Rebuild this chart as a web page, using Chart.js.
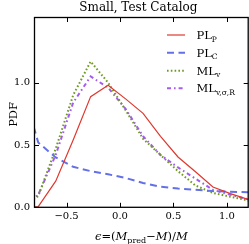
<!DOCTYPE html>
<html><head><meta charset="utf-8">
<script src="https://cdn.jsdelivr.net/npm/chart.js@4/dist/chart.umd.min.js"></script>
<style>html,body{margin:0;padding:0;background:#fff;}#wrap{width:249px;height:244px;}</style>
</head><body><div id="wrap"><canvas id="c" width="249" height="244"></canvas></div>
<script>
// bin centres of epsilon
const binCenters = [-0.9285,-0.765,-0.6015,-0.438,-0.2745,-0.111,0.0525,0.216,0.3795,0.543,0.7065,0.87,1.0335,1.197,1.36];
const plP   = [0.0, 0.005, 0.21, 0.54, 0.888, 0.98, 0.87, 0.754, 0.57, 0.404, 0.285, 0.163, 0.11, 0.064, 0.04];
const plC   = [1.0, 0.52, 0.40, 0.325, 0.29, 0.265, 0.235, 0.195, 0.165, 0.15, 0.14, 0.13, 0.125, 0.12, 0.115];
const mlV   = [0.0, 0.09, 0.47, 0.90, 1.17, 1.00, 0.78, 0.55, 0.42, 0.29, 0.175, 0.115, 0.085, 0.055, 0.04];
const mlVSR = [0.0, 0.10, 0.42, 0.84, 1.05, 0.96, 0.79, 0.57, 0.42, 0.32, 0.23, 0.14, 0.10, 0.065, 0.04];
const xTickValues = [-0.5, 0.0, 0.5, 1.0];
const yTickValues = [0.0, 0.5, 1.0];
const titleText = "Small, Test Catalog";
const yLabel = "PDF";

const SERIF = '"DejaVu Serif", serif';
const series = [
  {base:'PL', sub:'P', data:plP, color:'#e0382e', width:1.2, dash:[]},
  {base:'PL', sub:'C', data:plC, color:'#6470e6', width:2.0, dash:[7,4.5]},
  {base:'ML', sub:'v', data:mlV, color:'#6f9a22', width:2.0, dash:[1.6,2.2]},
  {base:'ML', sub:'v,σ,R', data:mlVSR, color:'#a35cf0', width:2.0, dash:[4,3,1.6,3]}
];

const fmt = v => (v < 0 ? '\u2212' : '') + Math.abs(v).toFixed(1);

const decor = {
  id:'decor',
  afterDatasetsDraw(chart){
    const {ctx, chartArea:a, scales:{x,y}} = chart;
    ctx.save();
    ctx.strokeStyle = '#000'; ctx.lineWidth = 1;
    ctx.beginPath();
    x.ticks.forEach(t=>{
      const px = Math.round(x.getPixelForValue(t.value)) + 0.5;
      ctx.moveTo(px, a.bottom); ctx.lineTo(px, a.bottom - 4.5);
      ctx.moveTo(px, a.top); ctx.lineTo(px, a.top + 4.5);
    });
    y.ticks.forEach(t=>{
      const py = Math.round(y.getPixelForValue(t.value)) + 0.5;
      ctx.moveTo(a.left, py); ctx.lineTo(a.left + 4.5, py);
      ctx.moveTo(a.right, py); ctx.lineTo(a.right - 4.5, py);
    });
    ctx.stroke();
    ctx.lineWidth = 1.3;
    ctx.strokeRect(a.left, a.top, a.right - a.left, a.bottom - a.top);

    // title
    ctx.fillStyle = '#000';
    ctx.font = '12px ' + SERIF;
    ctx.textAlign = 'center'; ctx.textBaseline = 'alphabetic';
    const cx = (a.left + a.right) / 2;
    ctx.fillText(titleText, cx - 3, 10.5);

    // y label
    ctx.save();
    ctx.translate(14, (a.top + a.bottom) / 2 + 2);
    ctx.rotate(-Math.PI / 2);
    ctx.textAlign = 'center'; ctx.textBaseline = 'middle';
    ctx.font = '11.5px ' + SERIF;
    ctx.fillText(yLabel, 0, 0);
    ctx.restore();

    // x label
    const parts = [
      {t:'\u03F5', f:'italic 11.5px ' + SERIF, dy:0},
      {t:'=', f:'11.5px ' + SERIF, dy:0},
      {t:'(', f:'11.5px ' + SERIF, dy:0},
      {t:'M', f:'italic 11.5px ' + SERIF, dy:0},
      {t:'pred', f:'8px ' + SERIF, dy:2.5},
      {t:'\u2212', f:'11.5px ' + SERIF, dy:0},
      {t:'M', f:'italic 11.5px ' + SERIF, dy:0},
      {t:')/', f:'11.5px ' + SERIF, dy:0},
      {t:'M', f:'italic 11.5px ' + SERIF, dy:0}
    ];
    let total = 0;
    parts.forEach(p=>{ ctx.font = p.f; p.w = ctx.measureText(p.t).width; total += p.w; });
    let xx = cx - total / 2;
    ctx.textAlign = 'left'; ctx.textBaseline = 'alphabetic';
    parts.forEach(p=>{ ctx.font = p.f; ctx.fillText(p.t, xx, 240 + p.dy); xx += p.w; });

    // legend
    const rows = [35, 52.7, 70.7, 88.3];
    series.forEach((s, i)=>{
      const ry = rows[i];
      ctx.strokeStyle = s.color; ctx.lineWidth = s.width;
      ctx.setLineDash(s.dash);
      ctx.beginPath(); ctx.moveTo(167, ry); ctx.lineTo(185, ry); ctx.stroke();
      ctx.setLineDash([]);
      ctx.fillStyle = '#000';
      ctx.font = '11.5px ' + SERIF;
      ctx.textAlign = 'left'; ctx.textBaseline = 'alphabetic';
      ctx.fillText(s.base, 196.5, ry + 4);
      const bw = ctx.measureText(s.base).width;
      ctx.font = '7.5px ' + SERIF;
      ctx.fillText(s.sub, 196.5 + bw, ry + 6.5);
    });
    ctx.restore();
  }
};

new Chart(document.getElementById('c'), {
  type:'line',
  data:{
    datasets: series.map(s=>({
      label: s.base + s.sub,
      data: binCenters.map((c, i)=>({x:c, y:s.data[i]})),
      borderColor: s.color, borderWidth: s.width, borderDash: s.dash,
      pointRadius: 0, fill:false, tension:0
    }))
  },
  options:{
    responsive:false, animation:false,
    layout:{padding:{top:17.5, right:0.8, left:0, bottom:0}},
    plugins:{legend:{display:false}, title:{display:false}, tooltip:{enabled:false}},
    scales:{
      x:{type:'linear', min:-0.8, max:1.2,
        afterBuildTicks: sc => { sc.ticks = xTickValues.map(v=>({value:v})); },
        ticks:{callback: v => fmt(v), font:{family:SERIF, size:10}, color:'#000', padding:3.5, maxRotation:0, autoSkip:false},
        grid:{display:false, drawTicks:false}, border:{display:false},
        afterFit: sc => { sc.height = 36.7; }
      },
      y:{type:'linear', min:0, max:1.523,
        afterBuildTicks: sc => { sc.ticks = yTickValues.map(v=>({value:v})); },
        ticks:{callback: v => fmt(v), font:{family:SERIF, size:10}, color:'#000', padding:4.5},
        grid:{display:false, drawTicks:false}, border:{display:false},
        afterFit: sc => { sc.width = 34.5; }
      }
    }
  },
  plugins:[decor]
});
</script>
</body></html>
